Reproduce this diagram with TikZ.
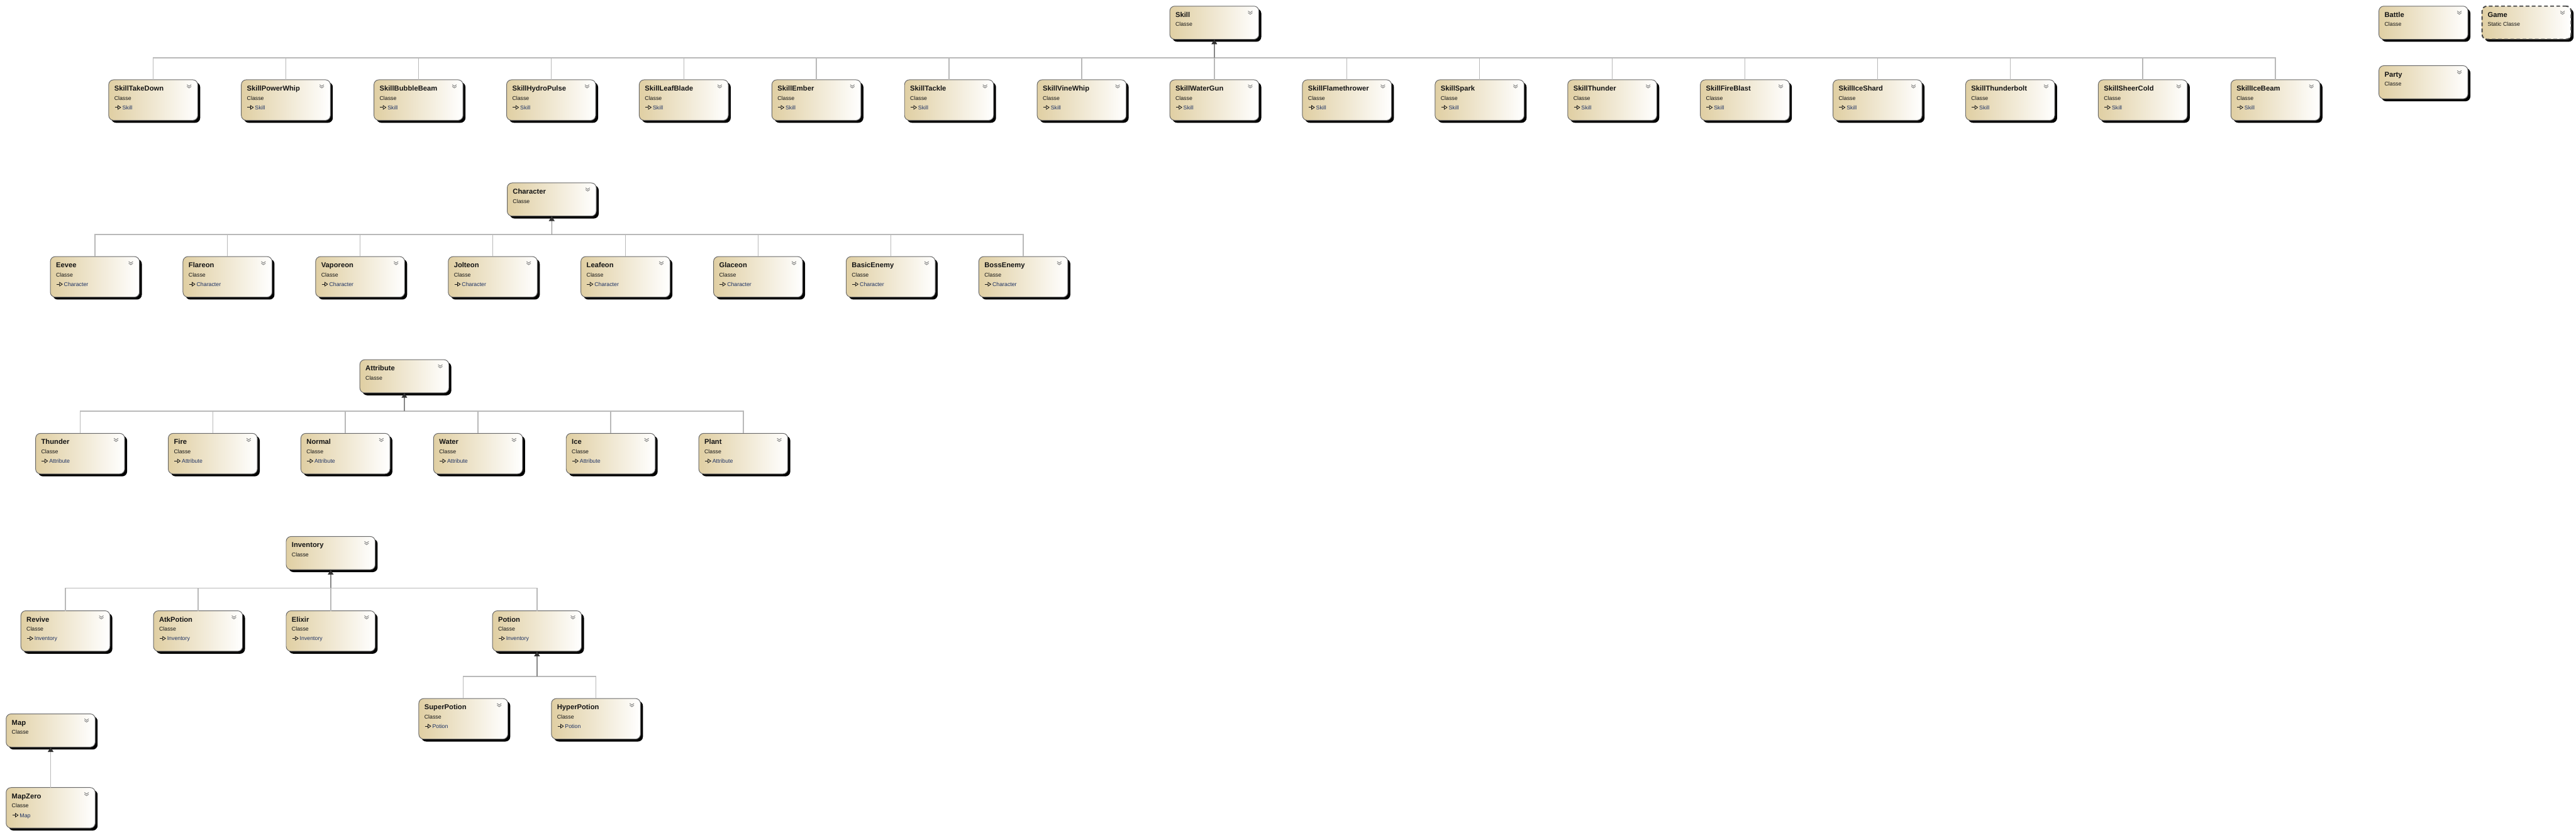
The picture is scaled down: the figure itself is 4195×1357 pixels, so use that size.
\documentclass[tikz,border=0pt]{standalone}
\usepackage{fontspec}
\setmainfont{Liberation Sans}
\usetikzlibrary{arrows.meta,shadows}
\definecolor{boxtan}{RGB}{224,207,163}
\definecolor{boxborder}{RGB}{105,105,105}
\definecolor{txt}{RGB}{20,20,20}
\definecolor{ptxt}{RGB}{30,50,100}
\definecolor{stemc}{RGB}{135,135,135}
\definecolor{busc}{RGB}{185,185,185}
\definecolor{chevc}{RGB}{125,125,125}
\tikzset{
 clsbox/.style={draw=boxborder, line width=1pt, rounded corners=8pt, anchor=north west,
   minimum width=145pt, inner sep=0pt, outer sep=0pt, left color=boxtan, right color=white,
   drop shadow={shadow xshift=4pt, shadow yshift=-4pt, opacity=1, fill=black}},
 staticbox/.style={draw=black!72, line width=2pt, dash pattern=on 6pt off 4pt},
 ttl/.style={anchor=base west, inner sep=0pt, font=\fontsize{11.5}{13}\selectfont\bfseries, text=txt},
 subt/.style={anchor=base west, inner sep=0pt, font=\fontsize{9}{10}\selectfont, text=txt},
 part/.style={anchor=base west, inner sep=0pt, font=\fontsize{9}{10}\selectfont, text=ptxt},
 chev/.style={draw=chevc, line width=0.9pt},
 inh/.style={draw=txt, line width=0.8pt},
 stemline/.style={draw=stemc, line width=1.6pt, -{Triangle[width=9pt,length=8pt,fill=black!80,color=black!80]}},
 busline/.style={draw=busc, line width=1.5pt},
}
\newcommand{\umlclass}[6][]{%
  \def\umlpar{#6}%
  \ifx\umlpar\empty\def\umlh{54pt}\else\def\umlh{66pt}\fi
  \node[clsbox, minimum height=\umlh, #1] (#2) at (#3,#4) {};
  \node[ttl] (#2-title) at ([shift={(9pt,-18pt)}]#2.north west) {#2};
  \node[subt] (#2-kind) at ([shift={(9pt,-33pt)}]#2.north west) {#5};
  \draw[chev] ([shift={(127.5pt,-8pt)}]#2.north west) -- ++(3.5pt,-2.5pt) -- ++(3.5pt,2.5pt);
  \draw[chev] ([shift={(127.5pt,-10.8pt)}]#2.north west) -- ++(3.5pt,-2.5pt) -- ++(3.5pt,2.5pt);
  \ifx\umlpar\empty\else
    \draw[inh] ([shift={(10pt,-45pt)}]#2.north west) -- ++(5pt,0pt);
    \draw[inh] ([shift={(15pt,-42pt)}]#2.north west) -- ++(4.5pt,-3pt) -- ++(-4.5pt,-3pt) -- cycle;
    \node[part] (#2-parent) at ([shift={(22pt,-48.5pt)}]#2.north west) {#6};
  \fi
}
\begin{document}
\begin{tikzpicture}[x=1pt,y=-1pt]
\useasboundingbox (0,0) rectangle (4195,1357);
\fill[white] (0,0) rectangle (4195,1357);

% ---------- Skill hierarchy ----------
\umlclass{Skill}{1905}{10}{Classe}{}
\foreach \n [count=\i from 0] in {SkillTakeDown,SkillPowerWhip,SkillBubbleBeam,SkillHydroPulse,SkillLeafBlade,SkillEmber,SkillTackle,SkillVineWhip,SkillWaterGun,SkillFlamethrower,SkillSpark,SkillThunder,SkillFireBlast,SkillIceShard,SkillThunderbolt,SkillSheerCold,SkillIceBeam}
  {\umlclass{\n}{177+216*\i}{130}{Classe}{Skill}}

% ---------- Standalone classes ----------
\umlclass{Battle}{3874}{10}{Classe}{}
\umlclass[staticbox]{Game}{4042}{10}{Static Classe}{}
\umlclass{Party}{3874}{107}{Classe}{}

% ---------- Character hierarchy ----------
\umlclass{Character}{826}{298}{Classe}{}
\foreach \n [count=\i from 0] in {Eevee,Flareon,Vaporeon,Jolteon,Leafeon,Glaceon,BasicEnemy,BossEnemy}
  {\umlclass{\n}{82+216*\i}{418}{Classe}{Character}}

% ---------- Attribute hierarchy ----------
\umlclass{Attribute}{586}{586}{Classe}{}
\foreach \n [count=\i from 0] in {Thunder,Fire,Normal,Water,Ice,Plant}
  {\umlclass{\n}{58+216*\i}{706}{Classe}{Attribute}}

% ---------- Inventory hierarchy ----------
\umlclass{Inventory}{466}{874}{Classe}{}
\umlclass{Revive}{34}{995}{Classe}{Inventory}
\umlclass{AtkPotion}{250}{995}{Classe}{Inventory}
\umlclass{Elixir}{466}{995}{Classe}{Inventory}
\umlclass{Potion}{802}{995}{Classe}{Inventory}
\umlclass{SuperPotion}{682}{1138}{Classe}{Potion}
\umlclass{HyperPotion}{898}{1138}{Classe}{Potion}

% ---------- Map ----------
\umlclass{Map}{10}{1163}{Classe}{}
\umlclass{MapZero}{10}{1283}{Classe}{Map}

% ---------- Connectors ----------
\coordinate (busSkill) at (0,94);
\coordinate (busChar) at (0,382);
\coordinate (busAttr) at (0,670);
\coordinate (busInv) at (0,958);
\coordinate (busPot) at (0,1102);

\draw[busline] (SkillTakeDown.north) -- (SkillTakeDown.north |- busSkill) -- (SkillIceBeam.north |- busSkill) -- (SkillIceBeam.north);
\foreach \n in {SkillPowerWhip,SkillBubbleBeam,SkillHydroPulse,SkillLeafBlade,SkillEmber,SkillTackle,SkillVineWhip,SkillWaterGun,SkillFlamethrower,SkillSpark,SkillThunder,SkillFireBlast,SkillIceShard,SkillThunderbolt,SkillSheerCold}
  {\draw[busline] (\n.north) -- (\n.north |- busSkill);}
\draw[stemline] (Skill.south |- busSkill) -- (Skill.south);

\draw[busline] (Eevee.north) -- (Eevee.north |- busChar) -- (BossEnemy.north |- busChar) -- (BossEnemy.north);
\foreach \n in {Flareon,Vaporeon,Jolteon,Leafeon,Glaceon,BasicEnemy}
  {\draw[busline] (\n.north) -- (\n.north |- busChar);}
\draw[stemline] (Character.south |- busChar) -- (Character.south);

\draw[busline] (Thunder.north) -- (Thunder.north |- busAttr) -- (Plant.north |- busAttr) -- (Plant.north);
\foreach \n in {Fire,Normal,Water,Ice}
  {\draw[busline] (\n.north) -- (\n.north |- busAttr);}
\draw[stemline] (Attribute.south |- busAttr) -- (Attribute.south);

\draw[busline] (Revive.north) -- (Revive.north |- busInv) -- (Potion.north |- busInv) -- (Potion.north);
\foreach \n in {AtkPotion,Elixir}
  {\draw[busline] (\n.north) -- (\n.north |- busInv);}
\draw[stemline] (Inventory.south |- busInv) -- (Inventory.south);

\draw[busline] (SuperPotion.north) -- (SuperPotion.north |- busPot) -- (HyperPotion.north |- busPot) -- (HyperPotion.north);
\draw[stemline] (Potion.south |- busPot) -- (Potion.south);

\draw[stemline, draw=busc] (MapZero.north) -- (Map.south);
\end{tikzpicture}
\end{document}
